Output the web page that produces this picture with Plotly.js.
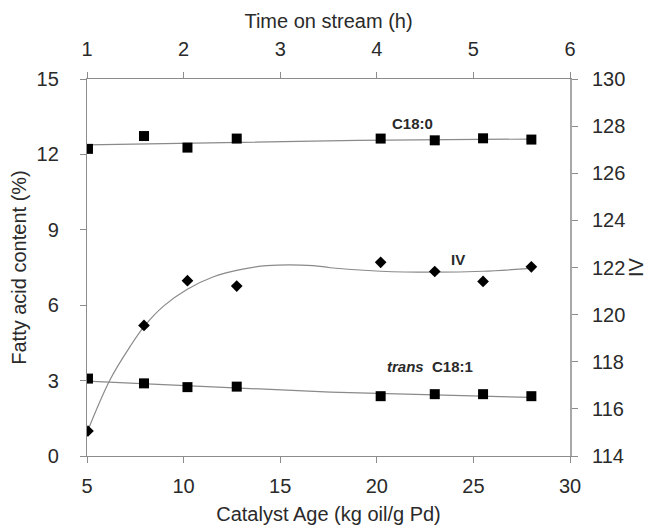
<!DOCTYPE html>
<html>
<head>
<meta charset="utf-8">
<script src="https://cdn.plot.ly/plotly-3.0.1.min.js"></script>
<style>
  html, body { margin: 0; padding: 0; background: #fff; }
  #chart { width: 652px; height: 526px; }
</style>
</head>
<body>
<div id="chart"></div>
<script>
// Measured points: catalyst age (kg oil/g Pd)
const catalystAge = [5.05, 7.95, 10.2, 12.75, 20.2, 23.0, 25.5, 28.0];
// Stearic acid C18:0 content (%)
const c180 = [12.22, 12.73, 12.27, 12.63, 12.63, 12.56, 12.64, 12.59];
// trans C18:1 content (%)
const transC181 = [3.08, 2.89, 2.74, 2.76, 2.38, 2.46, 2.46, 2.38];
// Iodine value
const iodineValue = [115.06, 119.54, 121.44, 121.21, 122.22, 121.83, 121.41, 122.03];

// Trend lines
const c180TrendX = [5, 19, 28];
const c180TrendY = [12.38, 12.56, 12.61];
const transTrendX = [5, 17.6, 28];
const transTrendY = [2.98, 2.54, 2.33];
const ivTrendX = [5.0, 6.2, 7.24, 8.0, 8.96, 10.17, 11.55, 12.93, 14.31, 16.72, 17.59, 20.2, 23.0, 25.5, 28.0];
const ivTrendY = [115.0, 117.25, 118.66, 119.54, 120.36, 121.07, 121.61, 121.91, 122.08, 122.08, 121.99, 121.84, 121.8, 121.84, 121.96];

// Top axis ticks: time on stream (h)
const timeTicks = [1, 2, 3, 4, 5, 6];

const font = 'Liberation Sans, Arial, sans-serif';
const textColor = '#2a2a2a';
const axisColor = '#8c8c8c';
const trendColor = '#8a8a8a';
const tickSize = 20;
const titleSize = 20;
const labelSize = 15;

const traces = [
  { x: c180TrendX, y: c180TrendY, mode: 'lines', line: { color: trendColor, width: 1.2 }, xaxis: 'x', yaxis: 'y', hoverinfo: 'skip' },
  { x: transTrendX, y: transTrendY, mode: 'lines', line: { color: trendColor, width: 1.2 }, xaxis: 'x', yaxis: 'y', hoverinfo: 'skip' },
  { x: ivTrendX, y: ivTrendY, mode: 'lines', line: { color: trendColor, width: 1.2, shape: 'spline', smoothing: 1 }, xaxis: 'x', yaxis: 'y2', hoverinfo: 'skip' },
  { x: catalystAge, y: c180, mode: 'markers', name: 'C18:0', marker: { symbol: 'square', size: 10, color: '#000' }, xaxis: 'x', yaxis: 'y' },
  { x: catalystAge, y: transC181, mode: 'markers', name: 'trans C18:1', marker: { symbol: 'square', size: 10, color: '#000' }, xaxis: 'x', yaxis: 'y' },
  { x: catalystAge, y: iodineValue, mode: 'markers', name: 'IV', marker: { symbol: 'diamond', size: 9, color: '#000' }, xaxis: 'x', yaxis: 'y2' },
  // invisible trace that activates the top time axis
  { x: timeTicks, y: timeTicks.map(() => null), mode: 'markers', xaxis: 'x2', yaxis: 'y', showlegend: false, hoverinfo: 'skip' }
];

const axisCommon = {
  showgrid: false, zeroline: false, showline: true, linecolor: axisColor, linewidth: 1.2,
  ticks: 'outside', ticklen: 6, tickcolor: axisColor, tickwidth: 1,
  tickfont: { family: font, size: tickSize, color: textColor }
};

const titleFont = { family: font, size: titleSize, color: textColor };

const layout = {
  width: 652, height: 526,
  margin: { l: 86.5, r: 82, t: 79, b: 69.5, pad: 0 },
  paper_bgcolor: '#fff', plot_bgcolor: '#fff',
  showlegend: false,
  font: { family: font, color: textColor },
  xaxis: Object.assign({}, axisCommon, {
    range: [5, 30], tick0: 5, dtick: 5,
    ticklabelstandoff: 6,
    title: { text: 'Catalyst Age (kg oil/g Pd)', font: titleFont, standoff: 10 }
  }),
  xaxis2: Object.assign({}, axisCommon, {
    overlaying: 'x', side: 'top', anchor: 'y',
    range: [1, 6], tick0: 1, dtick: 1,
    ticklabelstandoff: 8,
    title: { text: 'Time on stream (h)', font: titleFont, standoff: 3 }
  }),
  yaxis: Object.assign({}, axisCommon, {
    range: [0, 15], tick0: 0, dtick: 3,
    ticklabelstandoff: 17,
    title: { text: 'Fatty acid content (%)', font: titleFont, standoff: 4 }
  }),
  yaxis2: Object.assign({}, axisCommon, {
    overlaying: 'y', side: 'right', anchor: 'x',
    range: [114, 130], tick0: 114, dtick: 2,
    linecolor: '#a8a8a8', linewidth: 2,
    ticklabelstandoff: 10,
    title: { text: 'IV', font: titleFont, standoff: 5 }
  }),
  annotations: [
    { x: 435, y: 113, xref: 'paper', yref: 'paper', text: '<b>C18:0</b>', showarrow: false, font: { family: font, size: labelSize, color: textColor } },
    { x: 466.7, y: 260, xref: 'paper', yref: 'paper', text: '<b>IV</b>', showarrow: false, font: { family: font, size: labelSize, color: textColor } },
    { x: 475, y: 377, xref: 'paper', yref: 'paper', text: '<b><i>trans</i>  C18:1</b>', showarrow: false, font: { family: font, size: labelSize, color: textColor } }
  ]
};

// Annotation positions above are given in page pixels; convert them to paper coordinates.
const plotW = layout.width - layout.margin.l - layout.margin.r;
const plotH = layout.height - layout.margin.t - layout.margin.b;
layout.annotations.forEach(a => {
  a.x = (a.x - layout.margin.l) / plotW;
  a.y = 1 - (a.y - layout.margin.t) / plotH;
});

Plotly.newPlot('chart', traces, layout, { displayModeBar: false, staticPlot: true });
</script>
</body>
</html>
